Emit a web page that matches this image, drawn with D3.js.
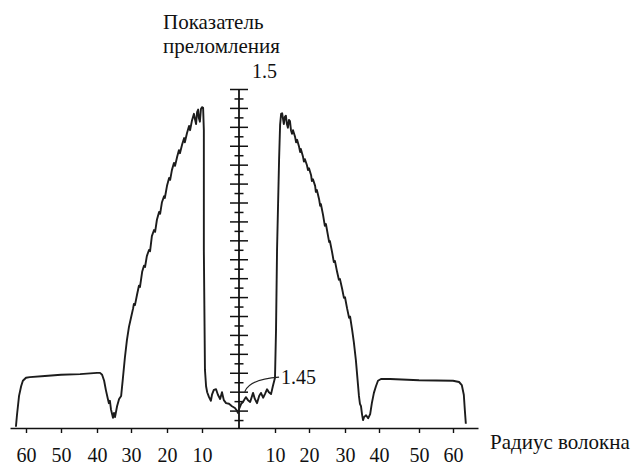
<!DOCTYPE html>
<html lang="ru">
<head>
  <meta charset="utf-8"/>
  <title>Профиль показателя преломления</title>
  <script src="https://cdn.jsdelivr.net/npm/d3@7/dist/d3.min.js"></script>
  <style>
    html, body { margin:0; padding:0; background:#fff; }
    svg { display:block; }
    svg text { font-family:'Liberation Serif', 'DejaVu Serif', 'Times New Roman', Times, serif !important; fill:#111; }
    .axis path, .axis line { stroke:#111; }
  </style>
</head>
<body>
<svg id="chart" width="638" height="465"></svg>
<script>
  // радиус (мкм) и показатель преломления
  const radius = [
    -62.9, -62.6, -62.0, -61.4, -60.9, -60.0, -58.9, -54.6, -50.0, -44.7, -40.0, -39.1,
    -38.5, -37.9, -37.4, -36.8, -36.5, -36.2, -35.9, -35.3, -35.0, -34.7, -34.1, -33.5,
    -32.9, -32.4, -31.8, -31.2, -30.6, -30.0,
    -29.4, -29.2, -28.9, -28.3, -27.8, -27.5, -26.9, -26.4, -26.1, -25.6, -25.0, -24.7,
    -24.2, -23.6, -23.3, -22.8, -22.2, -21.9, -21.4, -20.8, -20.6, -20.0, -19.4, -19.1,
    -18.6, -18.0, -17.7, -17.1, -16.6, -16.3, -15.7, -15.1, -14.9, -14.3, -13.7, -13.4,
    -12.9, -12.3, -12.0, -11.7, -11.4, -11.1, -10.9, -10.6, -10.3, -10.0, -9.7, -9.5,
    -9.5, -9.2, -8.9,
    -8.6, -8.1, -7.6, -7.3, -6.8, -6.2, -5.7, -5.1, -4.6, -4.1, -3.5, -2.7, -1.9, -1.1,
    -0.5, -0.3, 0.0, 0.6, 1.1, 1.9, 2.5, 3.1, 3.9, 4.4, 5.0, 5.6, 6.1, 6.7, 7.2, 7.8,
    8.3, 8.9, 9.4, 10.0,
    10.3, 10.6, 11.2, 11.5, 11.8, 12.1, 12.4, 12.6, 12.9, 13.2, 13.5, 13.8, 14.1, 14.4,
    14.7, 15.0, 15.3, 15.9, 16.2, 16.5, 17.1, 17.4, 17.6, 18.2, 18.5, 18.8, 19.4, 19.7,
    20.0, 20.6, 20.8, 21.1, 21.7, 21.9, 22.2, 22.8, 23.1, 23.3, 23.9, 24.4, 24.7, 25.3,
    25.6, 25.8, 26.4, 26.9, 27.2, 27.8, 28.3, 28.6, 29.2, 29.7, 30.0, 30.6, 31.2, 31.5,
    32.1, 32.6, 33.2, 33.8, 34.1, 34.4, 34.7, 35.0, 35.3, 35.6, 36.2, 36.8, 37.4, 37.9,
    38.5, 39.1, 39.7, 40.5, 42.8, 50.0, 60.0, 61.8, 62.6, 63.2, 63.5, 63.8
  ];
  const index = [
    1.4442, 1.4461, 1.4493, 1.4509, 1.4518, 1.4523, 1.4524, 1.4526, 1.4528, 1.4529, 1.4531, 1.4531,
    1.4528, 1.4518, 1.4503, 1.4488, 1.4481, 1.4485, 1.4471, 1.4457, 1.4465, 1.4458, 1.4476, 1.4488,
    1.4493, 1.4521, 1.4556, 1.4585, 1.4607, 1.4622,
    1.4638, 1.4645, 1.4643, 1.4661, 1.4675, 1.4673, 1.4698, 1.4708, 1.4706, 1.4724, 1.4734, 1.4732,
    1.4757, 1.4767, 1.4764, 1.4784, 1.4797, 1.4794, 1.4813, 1.4823, 1.4820, 1.4840, 1.4853, 1.4850,
    1.4866, 1.4878, 1.4873, 1.4888, 1.4899, 1.4894, 1.4908, 1.4919, 1.4912, 1.4927, 1.4939, 1.4932,
    1.4947, 1.4959, 1.4950, 1.4942, 1.4962, 1.4966, 1.4952, 1.4946, 1.4967, 1.4970, 1.4969, 1.4932,
    1.4734, 1.4536, 1.4509,
    1.4499, 1.4491, 1.4485, 1.4495, 1.4503, 1.4504, 1.4495, 1.4488, 1.4499, 1.4486, 1.4481, 1.4480, 1.4476, 1.4473,
    1.4468, 1.4465, 1.4471, 1.4480, 1.4483, 1.4491, 1.4486, 1.4483, 1.4498, 1.4488, 1.4481, 1.4493, 1.4498, 1.4490, 1.4496, 1.4504,
    1.4499, 1.4496, 1.4509, 1.4523,
    1.4602, 1.4734, 1.4883, 1.4941, 1.4959, 1.4960, 1.4949, 1.4942, 1.4954, 1.4956, 1.4942, 1.4936, 1.4949, 1.4947,
    1.4932, 1.4926, 1.4932, 1.4921, 1.4912, 1.4916, 1.4904, 1.4896, 1.4901, 1.4889, 1.4880, 1.4884, 1.4874, 1.4866,
    1.4869, 1.4857, 1.4848, 1.4851, 1.4840, 1.4830, 1.4833, 1.4818, 1.4807, 1.4810, 1.4792, 1.4774, 1.4777, 1.4757,
    1.4747, 1.4749, 1.4731, 1.4714, 1.4716, 1.4698, 1.4685, 1.4686, 1.4670, 1.4655, 1.4656, 1.4638, 1.4622, 1.4624,
    1.4602, 1.4582, 1.4552, 1.4513, 1.4493, 1.4480, 1.4476, 1.4463, 1.4453, 1.4458, 1.4461, 1.4456, 1.4463, 1.4481,
    1.4498, 1.4509, 1.4518, 1.4521, 1.4521, 1.4519, 1.4518, 1.4516, 1.4511, 1.4495, 1.4470, 1.4447
  ];

  // подписи осей
  const xTicks  = [-60, -50, -40, -30, -20, -10, 10, 20, 30, 40, 50, 60];
  const yLabels = [1.5, 1.45];
  const yStep   = 0.003125;   // шаг делений на оси показателя

  const FONT = "'Liberation Serif', 'DejaVu Serif', 'Times New Roman', serif";
  const svg = d3.select("#chart").attr("font-family", FONT);

  // ось радиуса нарисована от руки, поэтому шкала кусочно-линейная
  const x = d3.scaleLinear()
    .domain([-64.6, -60, -50, -40, -30, -20, -10, 0, 10, 20, 30, 40, 50, 60, 67.4])
    .range([10, 26, 61, 97, 131, 167, 202, 239, 275, 309, 345, 379, 419, 453, 478]);
  const y = d3.scaleLinear().domain([1.444, 1.5]).range([428, 89]);

  // ось X
  const gx = svg.append("g")
    .attr("class", "axis")
    .attr("transform", `translate(0,${y(1.444)})`)
    .call(d3.axisBottom(x).tickValues(xTicks).tickSizeInner(5).tickSizeOuter(0)
      .tickPadding(15).tickFormat(d => Math.abs(d)));
  gx.attr("font-family", FONT).attr("font-size", 20);
  gx.select(".domain").attr("stroke-width", 1.6);
  gx.selectAll(".tick line").attr("stroke-width", 1.4);

  // ось Y (деления в обе стороны)
  const major = d3.range(1.5, 1.446, -yStep);
  const minor = d3.range(1.5 - yStep / 2, 1.445, -yStep);
  const x0 = x(0);
  [[major, 9], [minor, 4.5]].forEach(([vals, len]) => {
    [d3.axisLeft, d3.axisRight].forEach(ax => {
      const g = svg.append("g")
        .attr("class", "axis")
        .attr("transform", `translate(${x0},0)`)
        .call(ax(y).tickValues(vals).tickSize(len).tickFormat(""));
      g.select(".domain").remove();
      g.selectAll(".tick line").attr("stroke-width", 1.5);
    });
  });
  svg.append("line")
    .attr("x1", x0).attr("x2", x0)
    .attr("y1", y(1.5)).attr("y2", y(1.444))
    .attr("stroke", "#111").attr("stroke-width", 1.8);

  // кривая профиля
  const line = d3.line()
    .x(i => x(radius[i]))
    .y(i => y(index[i]));
  svg.append("path")
    .attr("d", line(d3.range(radius.length)))
    .attr("fill", "none")
    .attr("stroke", "#1c1c1c")
    .attr("stroke-width", 1.9)
    .attr("stroke-linejoin", "round");

  // выноска 1.45
  const p0 = [x(1.6), y(1.45)], p1 = [x(11.2), y(1.4524)];
  svg.append("path")
    .attr("d", `M${p0[0]},${p0[1]} Q${p0[0] + 5},${p1[1] + 2} ${p1[0]},${p1[1]}`)
    .attr("fill", "none").attr("stroke", "#222").attr("stroke-width", 1.2);

  // подписи
  svg.append("text").attr("x", x0 + 13).attr("y", 78).attr("font-size", 20).text(yLabels[0]);
  svg.append("text").attr("x", p1[0] + 2).attr("y", 384).attr("font-size", 20).text(yLabels[1]);
  svg.append("text").attr("x", 163).attr("y", 29).attr("font-size", 21).text("Показатель");
  svg.append("text").attr("x", 163).attr("y", 53).attr("font-size", 21).text("преломления");
  svg.append("text").attr("x", 490).attr("y", 449).attr("font-size", 21).text("Радиус волокна");
</script>
</body>
</html>
